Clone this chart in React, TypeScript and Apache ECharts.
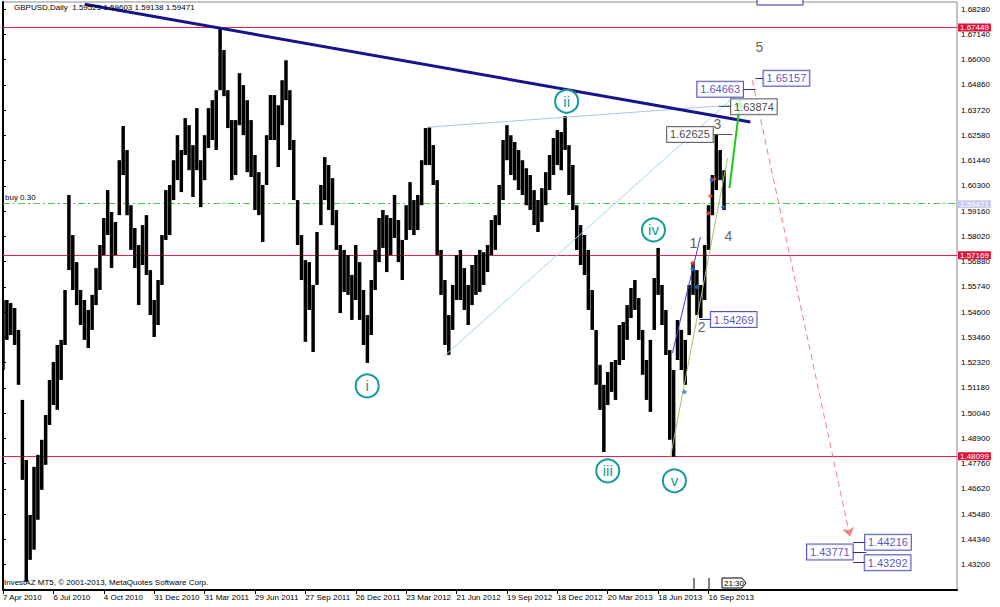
import React, { useEffect, useRef } from 'react';
import * as echarts from 'echarts';

// ---------- axis labels ----------
const tickLabels = [
  '7 Apr 2010', '6 Jul 2010', '4 Oct 2010', '31 Dec 2010', '31 Mar 2011', '29 Jun 2011',
  '27 Sep 2011', '26 Dec 2011', '23 Mar 2012', '21 Jun 2012', '19 Sep 2012', '18 Dec 2012',
  '20 Mar 2013', '18 Jun 2013', '16 Sep 2013',
];
const WEEKS_PER_TICK = 13;
const X_MAX = 246.1; // weeks shown across the plot
const BASE = 1.4206; // bottom of price scale
const Y_TOP = 1.686; // top of price scale
const PRICE_STEP = 0.0114;

// ---------- weekly high / low of GBPUSD ----------
const highs = [
  1.5515, 1.5515, 1.5501, 1.5479, 1.5380, 1.5064, 1.4793, 1.4545, 1.4762, 1.4816,
  1.4884, 1.4996, 1.5154, 1.5235, 1.5312, 1.5335, 1.5560, 1.5989, 1.5808, 1.5686,
  1.5560, 1.5515, 1.5470, 1.5538, 1.5659, 1.5763, 1.5885, 1.6011, 1.5912, 1.5867,
  1.6146, 1.6300, 1.6192, 1.5943, 1.5840, 1.5763, 1.5853, 1.5898, 1.5650, 1.5515,
  1.5605, 1.5808, 1.6011, 1.6034, 1.6146, 1.6259, 1.6192, 1.6336, 1.6304, 1.6214,
  1.6381, 1.6146, 1.6259, 1.6381, 1.6417, 1.6462, 1.6742, 1.6643, 1.6462, 1.6327,
  1.6327, 1.6539, 1.6485, 1.6417, 1.6327, 1.6169, 1.6092, 1.6034, 1.6259, 1.6440,
  1.6440, 1.6394, 1.6507, 1.6597, 1.6462, 1.6237, 1.5966, 1.5808, 1.5695, 1.5686,
  1.5583, 1.5822, 1.6034, 1.6160, 1.6124, 1.6065, 1.5921, 1.5763, 1.5741, 1.5718,
  1.5628, 1.5763, 1.5686, 1.5560, 1.5447, 1.5605, 1.5741, 1.5885, 1.5921, 1.5898,
  1.5885, 1.5989, 1.5876, 1.5786, 1.5943, 1.6047, 1.5966, 1.5989, 1.6146, 1.6291,
  1.6295, 1.6214, 1.6056, 1.5741, 1.5605, 1.5447, 1.5583, 1.5718, 1.5741, 1.5659,
  1.5583, 1.5673, 1.5718, 1.5741, 1.5731, 1.5763, 1.5876, 1.5898, 1.6034, 1.6237,
  1.6304, 1.6259, 1.6228, 1.6192, 1.6146, 1.6110, 1.6079, 1.6011, 1.5966, 1.6020,
  1.6092, 1.6169, 1.6246, 1.6282, 1.6273, 1.6345, 1.6214, 1.6124, 1.5943, 1.5853,
  1.5808, 1.5741, 1.5560, 1.5380, 1.5222, 1.5132, 1.5190, 1.5235, 1.5244, 1.5402,
  1.5416, 1.5492, 1.5569, 1.5605, 1.5524, 1.5380, 1.5244, 1.5335, 1.5614, 1.5750,
  1.5583, 1.5470, 1.5289, 1.5199, 1.5425, 1.5380, 1.5335, 1.5583, 1.5686, 1.5650,
  1.5583, 1.5763, 1.5943, 1.6079, 1.6263, 1.6192, 1.6101,
];
const lows = [
  1.5199, 1.5335, 1.5357, 1.5312, 1.5132, 1.4703, 1.4243, 1.4342, 1.4388, 1.4523,
  1.4658, 1.4771, 1.4951, 1.5041, 1.5019, 1.5154, 1.5312, 1.5650, 1.5560, 1.5492,
  1.5402, 1.5335, 1.5298, 1.5380, 1.5492, 1.5560, 1.5718, 1.5808, 1.5659, 1.5718,
  1.5898, 1.6079, 1.5898, 1.5741, 1.5659, 1.5492, 1.5673, 1.5628, 1.5447, 1.5348,
  1.5402, 1.5583, 1.5786, 1.5808, 1.5966, 1.6056, 1.6002, 1.6169, 1.6101, 1.5980,
  1.6101, 1.5934, 1.6056, 1.6201, 1.6237, 1.6192, 1.6462, 1.6435, 1.6291, 1.6056,
  1.6079, 1.6304, 1.6259, 1.6092, 1.6070, 1.5921, 1.5898, 1.5777, 1.6034, 1.6237,
  1.6237, 1.6115, 1.6304, 1.6417, 1.6192, 1.5966, 1.5763, 1.5605, 1.5326, 1.5470,
  1.5280, 1.5583, 1.5853, 1.5966, 1.5921, 1.5853, 1.5741, 1.5456, 1.5551, 1.5538,
  1.5425, 1.5515, 1.5425, 1.5312, 1.5231, 1.5357, 1.5560, 1.5686, 1.5750, 1.5641,
  1.5718, 1.5795, 1.5686, 1.5605, 1.5786, 1.5831, 1.5808, 1.5831, 1.5943, 1.6124,
  1.6124, 1.6034, 1.5718, 1.5538, 1.5312, 1.5267, 1.5380, 1.5515, 1.5515, 1.5470,
  1.5402, 1.5492, 1.5538, 1.5551, 1.5583, 1.5641, 1.5718, 1.5741, 1.5853, 1.5966,
  1.6146, 1.6079, 1.6056, 1.6011, 1.5989, 1.5943, 1.5921, 1.5853, 1.5822, 1.5867,
  1.5943, 1.6011, 1.6079, 1.6124, 1.6101, 1.6192, 1.5989, 1.5921, 1.5741, 1.5673,
  1.5628, 1.5470, 1.5380, 1.5132, 1.5019, 1.4829, 1.5041, 1.5100, 1.5064, 1.5222,
  1.5244, 1.5335, 1.5434, 1.5470, 1.5335, 1.5177, 1.5064, 1.5010, 1.5380, 1.5538,
  1.5402, 1.5267, 1.4884, 1.4807, 1.5244, 1.5199, 1.5132, 1.5357, 1.5538, 1.5447,
  1.5434, 1.5515, 1.5741, 1.5898, 1.6011, 1.6056, 1.5921,
];

// ---------- levels ----------
const resistanceLevels = [1.67449, 1.57169, 1.48099];
const buyLevel = 1.59525;
const bidPrice = 1.59471;

// ---------- drawn lines: [week, price] pairs ----------
const navyTrend = [[21.1, 1.6850], [192.8, 1.6318]];
const channelTop = [[109.7, 1.6295], [191.5, 1.6399]];
const channelDiag = [[113.8, 1.5262], [189.7, 1.6449]];
const wave1Line = [[172.7, 1.5276], [179.9, 1.5799]];
const supportLine = [[172.2, 1.4807], [186.9, 1.6155]];
const greenArrow = [[187.4, 1.6020], [190.2, 1.6417]];
const targetArrow = [[193.3, 1.6507], [218.5, 1.4446]];

// ---------- wave labels ----------
const circleNames = ['i', 'ii', 'iii', 'iv', 'v'];
const circleWeeks = [93.95, 145.4, 156.0, 167.8, 173.2];
const circlePrices = [1.5127, 1.6412, 1.4744, 1.5831, 1.4699];

const countNames = ['1', '2', '3', '4', '5'];
const countWeeks = [178.1, 180.2, 184.3, 187.1, 195.1];
const countPrices = [1.5772, 1.5393, 1.6309, 1.5804, 1.6656];

// ---------- price labels ----------
const boxTexts = ['1.62625', '1.63874', '1.64663', '1.65157', '1.54269', '1.44216', '1.43771', '1.43292'];
const boxWeeks = [177.2, 193.7, 185.0, 202.1, 188.5, 228.3, 213.3, 228.2];
const boxKinds = ['grey', 'grey', 'blue', 'blue', 'blue', 'blue', 'blue', 'blue'];
const connectorSegments = [
  [[183.0, 1.62625], [188.2, 1.62625]],
  [[184.6, 1.63874], [188.0, 1.63874]],
  [[190.7, 1.64663], [194.1, 1.64663]],
  [[194.1, 1.65157], [196.2, 1.65157]],
  [[179.7, 1.54269], [182.8, 1.54269]],
  [[219.3, 1.44216], [222.9, 1.44216]],
  [[219.0, 1.43771], [222.7, 1.43771]],
  [[219.3, 1.43292], [222.7, 1.43292]],
];

// ---------- trade markers ----------
const redMarks = [[177.9, 1.5682], [182.0, 1.5907], [182.5, 1.5984], [183.5, 1.6061]];
const blueMarks = [[177.9, 1.5655], [179.0, 1.5574], [175.8, 1.5100], [185.8, 1.5934], [182.8, 1.6056]];

const FONT = 'Liberation Sans, Arial, sans-serif';
const TEAL = '#139a9a';
const BOX_BLUE = '#2a2ab0';
const CLEAR = 'rgba(0,0,0,0)';
const LEVEL_STYLES = [
  { stroke: '#ee1e4a', lineWidth: 1 },
  { stroke: '#3fcf3f', lineWidth: 1, lineDash: [7, 3, 2, 3] },
];

const toY = (p: number) => +(p - BASE).toFixed(6);
const pt = (a: number[]) => [a[0], toY(a[1])];

export default function App() {
  const ref = useRef<HTMLDivElement>(null);
  useEffect(() => {
    if (!ref.current) return;
    const chart = echarts.init(ref.current, undefined, { renderer: 'svg' });

    const bars = highs.map((h, i) => [i, toY(h), toY(lows[i])]);
    const tickValues = tickLabels.map((_, k) => k * WEEKS_PER_TICK);
    const levelData = [
      ...resistanceLevels.map((lv) => [toY(lv), 0]),
      [toY(buyLevel), 1],
    ];

    const lineSeg = (coords: number[][], color: string, width: number, extra: any = {}) => ({
      coords: coords.map(pt),
      lineStyle: { color, width, opacity: 1, ...extra },
    });

    const tagLabel = (text: string, bg: string) => ({
      show: true, position: 'end', distance: 1, formatter: text,
      backgroundColor: bg, color: '#fff', fontSize: 8, padding: [0, 2], lineHeight: 8, fontFamily: FONT,
    });

    const option: any = {
      animation: false,
      backgroundColor: '#ffffff',
      textStyle: { fontFamily: FONT },
      grid: { left: 1, right: 43, top: 2, bottom: 17, show: true, borderColor: '#8a8a8a', borderWidth: 1 },
      xAxis: {
        type: 'value',
        min: 0,
        max: X_MAX,
        interval: WEEKS_PER_TICK,
        splitLine: { show: false },
        axisLine: { show: true, onZero: false, lineStyle: { color: '#000', width: 2 } },
        axisTick: { show: true, length: 4, customValues: tickValues, lineStyle: { color: '#000' } },
        axisLabel: {
          customValues: tickValues,
          formatter: (v: number) => tickLabels[Math.round(v / WEEKS_PER_TICK)] ?? '',
          align: 'left',
          margin: 3,
          fontSize: 8,
          fontFamily: FONT,
          color: '#000',
        },
      },
      yAxis: {
        type: 'value',
        position: 'right',
        min: 0,
        max: toY(Y_TOP),
        interval: PRICE_STEP,
        splitLine: { show: false },
        axisLine: { show: true, lineStyle: { color: '#000', width: 2 } },
        axisTick: { show: true, length: 3, lineStyle: { color: '#000' } },
        axisLabel: {
          showMinLabel: false,
          showMaxLabel: false,
          formatter: (v: number) => (v + BASE).toFixed(5),
          margin: 4,
          fontSize: 8,
          lineHeight: 8,
          fontFamily: FONT,
          color: '#000',
        },
      },
      series: [
        {
          type: 'custom',
          name: 'levels',
          silent: true,
          z: 1,
          data: levelData,
          encode: { y: 0 },
          renderItem: (params: any, api: any) => {
            const cs = params.coordSys;
            const c = api.coord([0, api.value(0)]);
            const y = Math.floor(c[1]) + 0.5;
            return {
              type: 'line',
              shape: { x1: cs.x, y1: y, x2: cs.x + cs.width, y2: y },
              style: { ...LEVEL_STYLES[api.value(1)], fill: null },
            };
          },
        },
        {
          type: 'custom',
          name: 'GBPUSD',
          data: bars,
          encode: { x: 0, y: [1, 2] },
          clip: true,
          z: 2,
          renderItem: (params: any, api: any) => {
            const x = api.value(0);
            const top = api.coord([x, api.value(1)]);
            const bot = api.coord([x, api.value(2)]);
            const w = api.size([1, 0])[0] * 0.9;
            return {
              type: 'rect',
              shape: { x: top[0] - w / 2, y: top[1], width: w, height: Math.max(1, bot[1] - top[1]) },
              style: { fill: '#000' },
            };
          },
          markLine: {
            silent: true,
            precision: 6,
            symbol: ['none', 'none'],
            lineStyle: { color: CLEAR, width: 1 },
            data: [
              ...resistanceLevels.map((lv) => ({
                yAxis: toY(lv),
                label: tagLabel(lv.toFixed(5), '#dc143c'),
              })),
              {
                yAxis: toY(buyLevel),
                label: {
                  show: true, position: 'insideStartTop', formatter: 'buy 0.30', distance: 2,
                  color: '#000', fontSize: 8, fontFamily: FONT,
                },
              },
              {
                yAxis: toY(bidPrice),
                label: tagLabel(bidPrice.toFixed(5), '#c9c9f2'),
              },
            ],
          },
        },
        {
          type: 'lines',
          coordinateSystem: 'cartesian2d',
          silent: true,
          z: 5,
          data: [
            lineSeg(channelTop, '#a9c6e6', 1),
            lineSeg(channelDiag, '#a6d6f4', 1),
            lineSeg(wave1Line, '#3a3ad0', 1),
            lineSeg(supportLine, '#a4c46a', 1),
            lineSeg(navyTrend, '#14148c', 3),
            ...connectorSegments.map((c, k) => lineSeg(c, k < 2 ? '#555' : BOX_BLUE, 1)),
          ],
        },
        {
          type: 'lines',
          coordinateSystem: 'cartesian2d',
          silent: true,
          z: 6,
          symbol: ['none', 'arrow'],
          symbolSize: 9,
          data: [
            lineSeg(greenArrow, '#1ec81e', 2),
            lineSeg(targetArrow, '#f08080', 1, { type: [6, 4] }),
          ],
        },
        {
          type: 'scatter',
          z: 7,
          symbol: 'diamond',
          symbolSize: 5,
          itemStyle: { color: '#ff4a1e' },
          data: redMarks.map(pt),
        },
        {
          type: 'scatter',
          z: 7,
          symbol: 'diamond',
          symbolSize: 5,
          itemStyle: { color: '#1e6ee0' },
          data: blueMarks.map(pt),
        },
        {
          type: 'scatter',
          z: 8,
          symbol: 'circle',
          symbolSize: 23,
          itemStyle: { color: 'rgba(255,255,255,0.9)', borderColor: TEAL, borderWidth: 2, opacity: 1 },
          label: {
            show: true, position: 'inside', formatter: (p: any) => p.name,
            color: TEAL, fontSize: 15, fontFamily: FONT,
          },
          data: circleNames.map((n, k) => ({ name: n, value: [circleWeeks[k], toY(circlePrices[k])] })),
        },
        {
          type: 'scatter',
          z: 8,
          symbol: 'circle',
          symbolSize: 1,
          itemStyle: { color: CLEAR },
          label: {
            show: true, position: 'inside', formatter: (p: any) => p.name,
            fontSize: 14, fontFamily: FONT,
          },
          data: countNames.map((n, k) => ({
            name: n,
            value: [countWeeks[k], toY(countPrices[k])],
            label: { color: k === 0 ? '#26267a' : k === 4 ? '#4a3618' : '#3a3a3a' },
          })),
        },
        {
          type: 'scatter',
          z: 9,
          symbol: 'rect',
          symbolSize: 1,
          itemStyle: { color: CLEAR },
          label: {
            show: true, position: 'inside', formatter: (p: any) => p.name,
            fontSize: 11, fontFamily: FONT, backgroundColor: '#fff', borderWidth: 1, padding: [2, 3],
          },
          data: boxTexts.map((t, k) => ({
            name: t,
            value: [boxWeeks[k], toY(parseFloat(t))],
            label: boxKinds[k] === 'blue'
              ? { color: BOX_BLUE, borderColor: BOX_BLUE }
              : { color: '#111', borderColor: '#444' },
          })),
        },
      ],
      graphic: [
        {
          type: 'text', left: 14, top: 3, z: 20,
          style: { text: 'GBPUSD,Daily  1.59525 1.59603 1.59138 1.59471', fontSize: 8, fontFamily: FONT, fill: '#000' },
        },
        {
          type: 'text', left: 4, top: 578, z: 20,
          style: { text: 'InvestAZ MT5, \u00a9 2001-2013, MetaQuotes Software Corp.', fontSize: 8, fontFamily: FONT, fill: '#000' },
        },
        { type: 'rect', shape: { x: 757, y: -10, width: 46, height: 15 }, style: { fill: '#fff', stroke: BOX_BLUE, lineWidth: 1 }, z: 20 },
        { type: 'line', shape: { x1: 694, y1: 578, x2: 694, y2: 589 }, style: { stroke: '#000', lineWidth: 1 }, z: 20 },
        { type: 'line', shape: { x1: 709, y1: 578, x2: 709, y2: 589 }, style: { stroke: '#000', lineWidth: 1 }, z: 20 },
        {
          type: 'polygon', z: 20,
          shape: { points: [[722, 578], [742, 578], [746, 583], [742, 588], [722, 588]] },
          style: { fill: '#fff', stroke: '#000', lineWidth: 1 },
        },
        {
          type: 'text', left: 724, top: 579, z: 21,
          style: { text: '21:30', fontSize: 8, fontFamily: FONT, fill: '#000' },
        },
      ],
    };

    chart.setOption(option);
    return () => chart.dispose();
  }, []);

  return (
    <div
      ref={ref}
      style={{ position: 'fixed', left: 0, top: 0, width: 1000, height: 607, background: '#fff' }}
    />
  );
}
